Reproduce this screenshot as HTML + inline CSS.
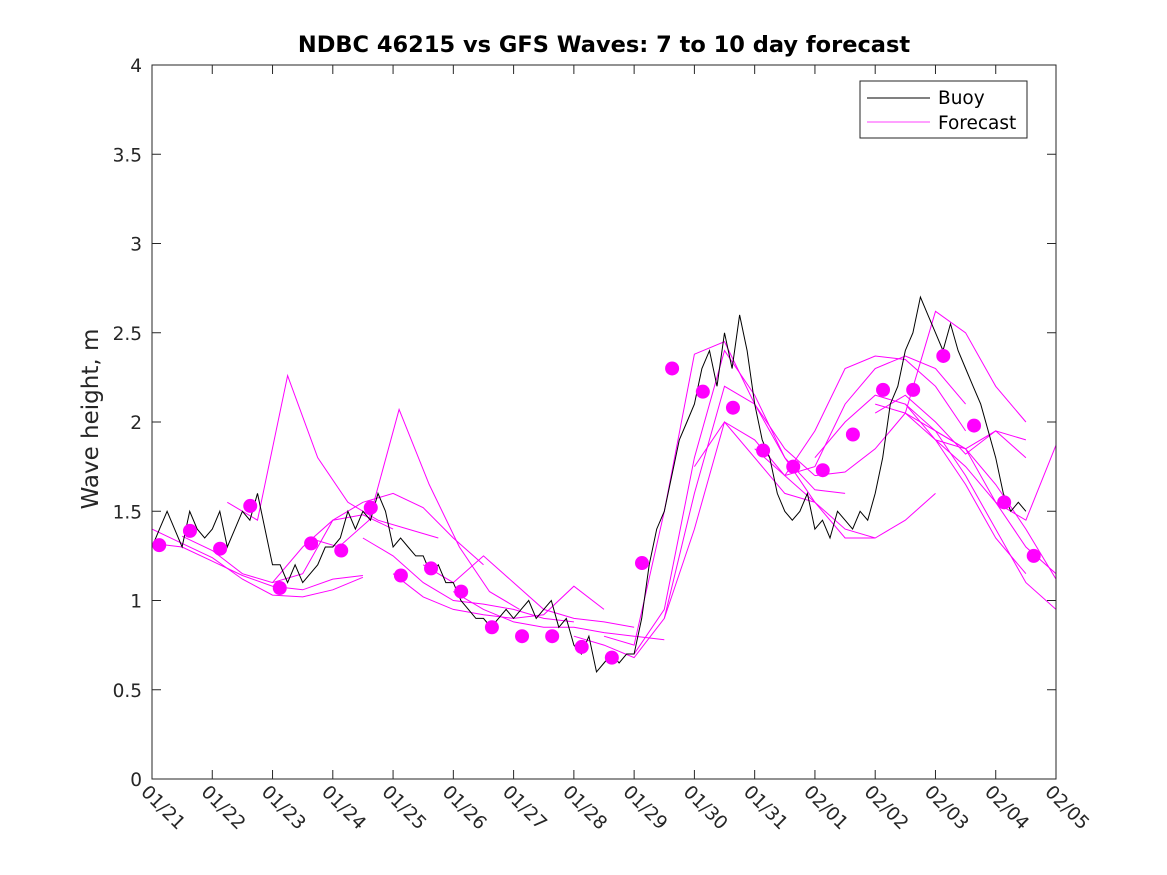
<!DOCTYPE html>
<html><head><meta charset="utf-8"><style>
body{margin:0;background:#fff;}
svg{display:block;font-family:"DejaVu Sans","Liberation Sans",sans-serif;}
</style></head><body>
<svg id="chart" width="1167" height="875">
<defs><clipPath id="pc"><rect x="152" y="65" width="904" height="714"/></clipPath></defs>
<rect width="1167" height="875" fill="#fff"/>
<text x="604" y="52" text-anchor="middle" font-size="22.5" font-weight="bold" fill="#000">NDBC 46215 vs GFS Waves: 7 to 10 day forecast</text>
<text transform="translate(98,419) rotate(-90)" text-anchor="middle" font-size="23" fill="#262626">Wave height, m</text>
<g id="grid"></g>
<g id="series" clip-path="url(#pc)"></g>
<rect x="152" y="65" width="904" height="714" fill="none" stroke="#262626" stroke-width="1"/>
<g>
<rect x="860" y="81" width="167" height="57" fill="#fff" stroke="#262626"/>
<line x1="867" y1="98" x2="930" y2="98" stroke="#000"/>
<text x="938" y="104" font-size="18.5" fill="#000">Buoy</text>
<line x1="867" y1="122" x2="930" y2="122" stroke="#f0f" stroke-width="0.8"/>
<text x="938" y="129" font-size="18.5" fill="#000">Forecast</text>
</g>
</svg>
<script>
const xTickLabels=["01/21","01/22","01/23","01/24","01/25","01/26","01/27","01/28","01/29","01/30","01/31","02/01","02/02","02/03","02/04","02/05"];
const yTicks=[0,0.5,1,1.5,2,2.5,3,3.5,4];
const buoyStep=0.125;
const buoyValues=[1.3,1.4,1.5,1.4,1.3,1.5,1.4,1.35,1.4,1.5,1.3,1.4,1.5,1.45,1.6,1.4,
1.2,1.2,1.1,1.2,1.1,1.15,1.2,1.3,1.3,1.35,1.5,1.4,1.5,1.45,1.6,1.5,
1.3,1.35,1.3,1.25,1.25,1.15,1.2,1.1,1.1,1.0,0.95,0.9,0.9,0.85,0.9,0.95,
0.9,0.95,1.0,0.9,0.95,1.0,0.85,0.9,0.75,0.7,0.8,0.6,0.65,0.7,0.65,0.7,
0.7,0.9,1.2,1.4,1.5,1.7,1.9,2.0,2.1,2.3,2.4,2.2,2.5,2.3,2.6,2.4,
2.1,1.9,1.8,1.6,1.5,1.45,1.5,1.6,1.4,1.45,1.35,1.5,1.45,1.4,1.5,1.45,
1.6,1.8,2.1,2.2,2.4,2.5,2.7,2.6,2.5,2.4,2.55,2.4,2.3,2.2,2.1,1.95,
1.8,1.6,1.5,1.55,1.5];
const forecastStarts=[0,0,0.5,1.25,2,2.6,3.5,4.5,5,4,7.5,7,8,8.5,9,10,10.5,11,11,12,12.5,12,12.5,13,13];
const forecastValues=[
[1.40,1.32,1.24,1.12,1.03,1.02,1.06,1.13],
[1.32,1.30,1.22,1.14,1.08,1.06,1.12,1.14],
[1.36,1.28,1.15,1.10,1.15,1.45,1.48,1.40],
[1.55,1.45,2.26,1.80,1.55,1.45,1.40,1.35],
[1.10,1.30,1.45,1.55,1.60,1.52,1.35,1.20],
[1.35,1.30,1.45,2.07,1.65,1.30,1.05,0.95],
[1.35,1.25,1.10,1.00,0.98,0.95,0.90,0.88],
[1.20,1.10,1.25,1.10,0.95,0.90,0.88,0.85],
[1.05,0.95,0.88,0.85,0.85,0.82,0.80,0.78],
[1.15,1.02,0.95,0.92,0.90,0.92,1.08,0.95],
[0.80,0.75,1.50,2.38,2.45,2.10,1.85,1.70],
[0.80,0.75,0.68,0.90,1.60,2.20,2.10,1.80,1.55],
[0.70,0.95,1.80,2.40,2.15,1.80,1.62,1.60],
[0.90,1.40,2.00,1.90,1.70,1.55,1.35,1.35],
[1.75,2.00,1.80,1.60,1.55,1.40,1.35,1.45,1.60],
[1.85,1.70,1.75,2.10,2.30,2.37,2.30,2.10],
[1.70,1.95,2.30,2.37,2.35,2.20,1.95],
[1.70,1.72,1.85,2.05,2.62,2.50,2.20,2.00],
[1.80,2.00,2.15,2.10,1.90,1.85,1.95,1.80],
[2.05,2.15,2.00,1.82,1.95,1.90],
[2.10,1.95,1.70,1.40,1.10,0.95],
[2.10,2.05,1.90,1.65,1.35,1.15],
[2.05,1.95,1.85,1.55,1.45,1.87],
[1.90,1.75,1.55,1.30,1.15],
[1.95,1.85,1.65,1.40,1.12]];
const forecastStep=0.5;
const dotDays=[0.12,0.63,1.13,1.63,2.12,2.64,3.14,3.63,4.13,4.63,5.13,5.64,6.14,6.64,7.13,7.63,8.13,8.63,9.14,9.64,10.14,10.64,11.13,11.63,12.13,12.63,13.13,13.64,14.14,14.63];
const dotValues=[1.31,1.39,1.29,1.53,1.07,1.32,1.28,1.52,1.14,1.18,1.05,0.85,0.80,0.80,0.74,0.68,1.21,2.30,2.17,2.08,1.84,1.75,1.73,1.93,2.18,2.18,2.37,1.98,1.55,1.25];

const NS="http://www.w3.org/2000/svg";
const X0=152,X1=1056,Y0=779,Y1=65;
function xs(d){return X0+(X1-X0)*d/15;}
function ys(v){return Y0-(Y0-Y1)*v/4;}
function mk(tag,attrs,parent){const e=document.createElementNS(NS,tag);for(const k in attrs)e.setAttribute(k,attrs[k]);parent.appendChild(e);return e;}
const grid=document.getElementById('grid');
const ser=document.getElementById('series');
yTicks.forEach(v=>{
  const y=ys(v);
  const t1=mk('line',{x1:X0,y1:y,x2:X0+9,y2:y,stroke:'#262626'},grid);
  
  
  const t2=mk('line',{x1:X1-9,y1:y,x2:X1,y2:y,stroke:'#262626'},grid);
  
  
  const tx=mk('text',{x:X0-10,y:y+7,'text-anchor':'end','font-size':'18.5',fill:'#262626'},grid);
  tx.textContent=String(v);
  
  
});
xTickLabels.forEach((lab,i)=>{
  const x=xs(i);
  const t1=mk('line',{x1:x,y1:Y0,x2:x,y2:Y0-9,stroke:'#262626'},grid);
  
  
  const t2=mk('line',{x1:x,y1:Y1,x2:x,y2:Y1+9,stroke:'#262626'},grid);
  
  
  const tx=mk('text',{transform:`translate(${x-12},${Y0+14}) rotate(45)`,'font-size':'18.5',fill:'#262626'},grid);
  tx.textContent=lab;
  
  
});
forecastValues.forEach((vals,i)=>{
  const pts=vals.map((v,j)=>xs(forecastStarts[i]+j*forecastStep).toFixed(1)+','+ys(v).toFixed(1)).join(' ');
  const p=mk('polyline',{points:pts,fill:'none',stroke:'#f0f','stroke-width':'1'},ser);
  
  
});
const bp=buoyValues.map((v,j)=>xs(j*buoyStep).toFixed(1)+','+ys(v).toFixed(1));
const b=mk('polyline',{points:bp.join(' '),fill:'none',stroke:'#000','stroke-width':'1'},ser);


dotDays.forEach((d,i)=>{
  const c=mk('circle',{cx:xs(d),cy:ys(dotValues[i]),r:7,fill:'#f0f'},ser);
  
  
});
</script>
</body></html>
